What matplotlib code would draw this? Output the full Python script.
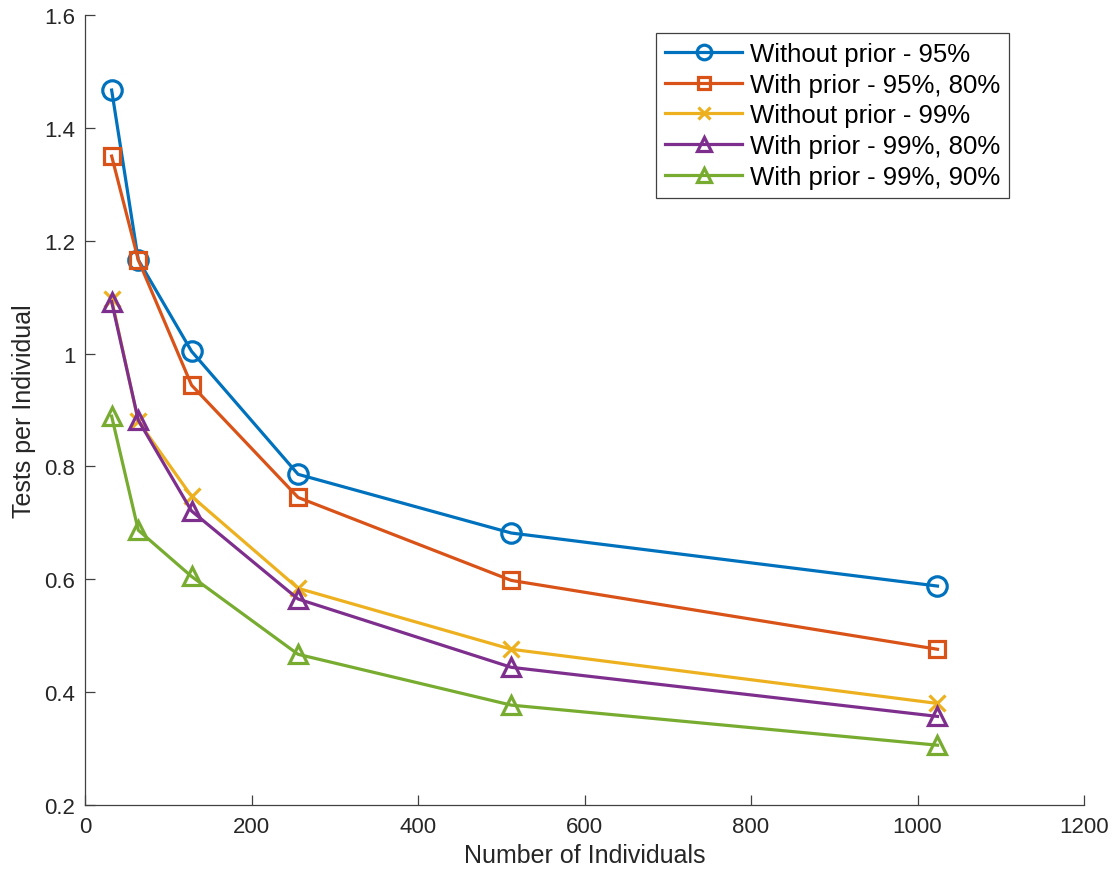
import matplotlib
matplotlib.use("Agg")
import matplotlib.pyplot as plt

n_individuals = [32, 64, 128, 256, 512, 1024]
without_prior_95 = [1.467, 1.166, 1.004, 0.786, 0.682, 0.588]
with_prior_95_80 = [1.350, 1.166, 0.944, 0.745, 0.598, 0.476]
without_prior_99 = [1.096, 0.880, 0.747, 0.584, 0.476, 0.380]
with_prior_99_80 = [1.092, 0.882, 0.721, 0.565, 0.444, 0.357]
with_prior_99_90 = [0.889, 0.687, 0.605, 0.467, 0.377, 0.306]

labels = ["Without prior - 95%", "With prior - 95%, 80%", "Without prior - 99%",
          "With prior - 99%, 80%", "With prior - 99%, 90%"]
series = [without_prior_95, with_prior_95_80, without_prior_99, with_prior_99_80, with_prior_99_90]
colors = ["#0072BD", "#D95319", "#EDB120", "#7E2F8E", "#77AC30"]
markers = ["o", "s", "x", "^", "^"]
msizes = [14, 11.5, 12, 13, 13]

plt.rcParams['font.family'] = ['Liberation Sans', 'DejaVu Sans']

fig = plt.figure(figsize=(11.15, 8.79), dpi=100)
ax = fig.add_axes([85/1115, 1 - 806/879, 999/1115, 790/879])

for ys, lab, c, m, ms in zip(series, labels, colors, markers, msizes):
    ax.plot(n_individuals, ys, color=c, lw=2.3, marker=m, ms=ms,
            markerfacecolor='none', markeredgecolor=c, markeredgewidth=2.3, label=lab)

ax.set_xlim(0, 1200)
ax.set_ylim(0.2, 1.6)
ax.set_xticks(range(0, 1201, 200))
ax.set_yticks([0.2, 0.4, 0.6, 0.8, 1.0, 1.2, 1.4, 1.6])
ax.set_yticklabels(["0.2", "0.4", "0.6", "0.8", "1", "1.2", "1.4", "1.6"])
for s in ['top', 'right']:
    ax.spines[s].set_visible(False)
for s in ['left', 'bottom']:
    ax.spines[s].set_color('#404040')
    ax.spines[s].set_linewidth(0.9)
ax.tick_params(direction='in', length=7, width=0.9, colors='#404040', labelcolor='#262626',
               labelsize=16)
ax.tick_params(axis='x', pad=8)
ax.tick_params(axis='y', pad=7)
ax.set_xlabel("Number of Individuals", fontsize=18, color='#262626', labelpad=4)
ax.set_ylabel("Tests per Individual", fontsize=18, color='#262626', labelpad=6)

leg = ax.legend(loc='upper right', bbox_to_anchor=(1009/1115, 1 - 34/879),
                bbox_transform=fig.transFigure, fontsize=18.5, markerscale=0.75,
                handlelength=3.0, handletextpad=0.3, borderpad=0.35, labelspacing=0.26,
                borderaxespad=0, fancybox=False, framealpha=1, edgecolor='#404040')
leg.get_frame().set_linewidth(0.9)

fig.savefig("out.png", dpi=100)
